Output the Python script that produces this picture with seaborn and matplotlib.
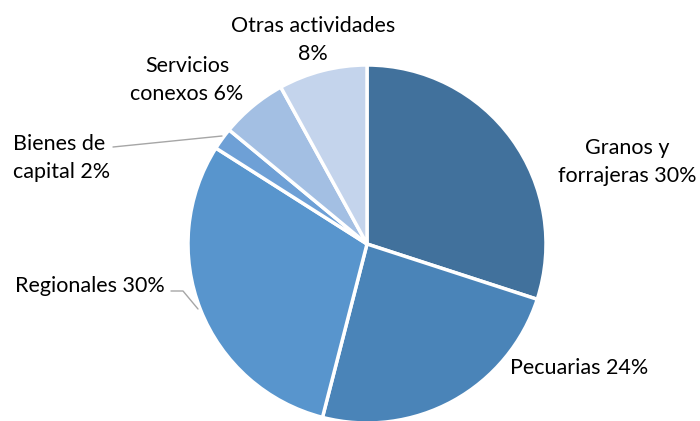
import matplotlib
matplotlib.use("Agg")
import matplotlib.pyplot as plt
import seaborn as sns

# Data
sectors = ["Granos y\nforrajeras", "Pecuarias", "Regionales", "Bienes de\ncapital",
           "Servicios\nconexos", "Otras actividades\n"]
shares = [30, 24, 30, 2, 6, 8]
colors = ["#41719C", "#4A84B8", "#5895CD", "#6EA0D6", "#A3BFE3", "#C4D4EC"]

sns.set_theme(style="white")
plt.rcParams['font.family'] = ['Lato', 'DejaVu Sans']

fig = plt.figure(figsize=(7, 4.21), dpi=100)
ax = fig.add_axes([0, 0, 1, 1])

cx, cy, r = 367, 421 - 244, 179
wedges, _ = ax.pie(shares, colors=colors, startangle=90, counterclock=False,
                   center=(cx, cy), radius=r, frame=True,
                   wedgeprops=dict(edgecolor="white", linewidth=2.5))
ax.set_xlim(0, 700)
ax.set_ylim(0, 421)
ax.axis("off")

fs = 15.5
labels = [f"{s} {v}%" if not s.endswith("\n") else f"{s}{v}%" for s, v in zip(sectors, shares)]
# label placement (x, y in pixels from top-left, alignment)
pos = [(627, 162, "center"), (510, 368, "left"), (15, 286, "left"),
       (13, 158, "left"), (187, 80, "center"), (313, 40, "center")]
for lab, (x, y, ha) in zip(labels, pos):
    ax.text(x, 421 - y, lab, ha=ha, va="center", fontsize=fs, color="black",
            linespacing=1.5)

# leader lines
ax.plot([113, 222], [421 - 147, 421 - 136], color="#A6A6A6", lw=1)
ax.plot([171, 183, 198], [421 - 291, 421 - 291, 421 - 309], color="#A6A6A6", lw=1)

fig.savefig("out.png", dpi=100)
